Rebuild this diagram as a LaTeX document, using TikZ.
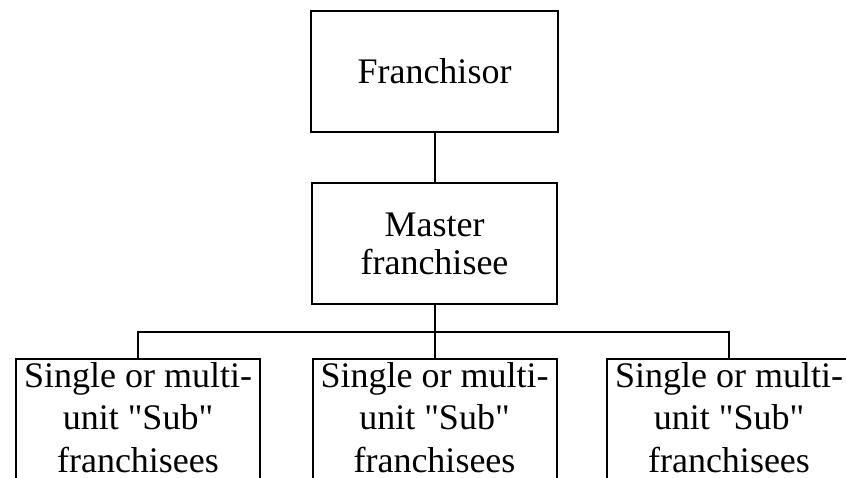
\documentclass[tikz,border=0pt]{standalone}
\usepackage{fontspec}
\setmainfont{Liberation Serif}[Ligatures=TeXOff]
\begin{document}
\begin{tikzpicture}[x=1pt,y=-1pt,
  box/.style={draw,line width=2pt,rectangle,inner sep=3pt,align=center,
    font=\fontsize{36}{38}\selectfont},
  subbox/.style={draw,line width=2pt,rectangle,inner sep=0pt,
    minimum width=244pt,minimum height=140pt,anchor=north},
  subtext/.style={inner sep=0pt,align=center,anchor=north,
    font=\fontsize{36}{42.5}\selectfont},
  conn/.style={line width=2pt}]
\useasboundingbox (0,0) rectangle (846,477);
\begin{scope}
\clip (0,0) rectangle (846,477);
\node[box,minimum width=247pt,minimum height=121pt] (f) at (434.5,71.5) {Franchisor};
\node[box,minimum width=245pt,minimum height=121pt] (m) at (434.5,243.5) {Master\\franchisee};
\node[subbox] (s1) at (138,358) {};
\node[subbox] (s2) at (434.5,358) {};
\node[subbox] (s3) at (729,358) {};
\coordinate (j) at (434.5,332);
\draw[conn] (f.south) -- (m.north);
\draw[conn] (m.south) -- (s2.north);
\draw[conn] (s1.north) -- (s1.north |- j) -- (s3.north |- j) -- (s3.north);
\end{scope}
\node[subtext] (t1) at (138,362) {Single or multi-\\unit "Sub"\\franchisees};
\node[subtext] (t2) at (434.5,362) {Single or multi-\\unit "Sub"\\franchisees};
\node[subtext] (t3) at (729,362) {Single or multi-\\unit "Sub"\\franchisees};
\end{tikzpicture}
\end{document}
